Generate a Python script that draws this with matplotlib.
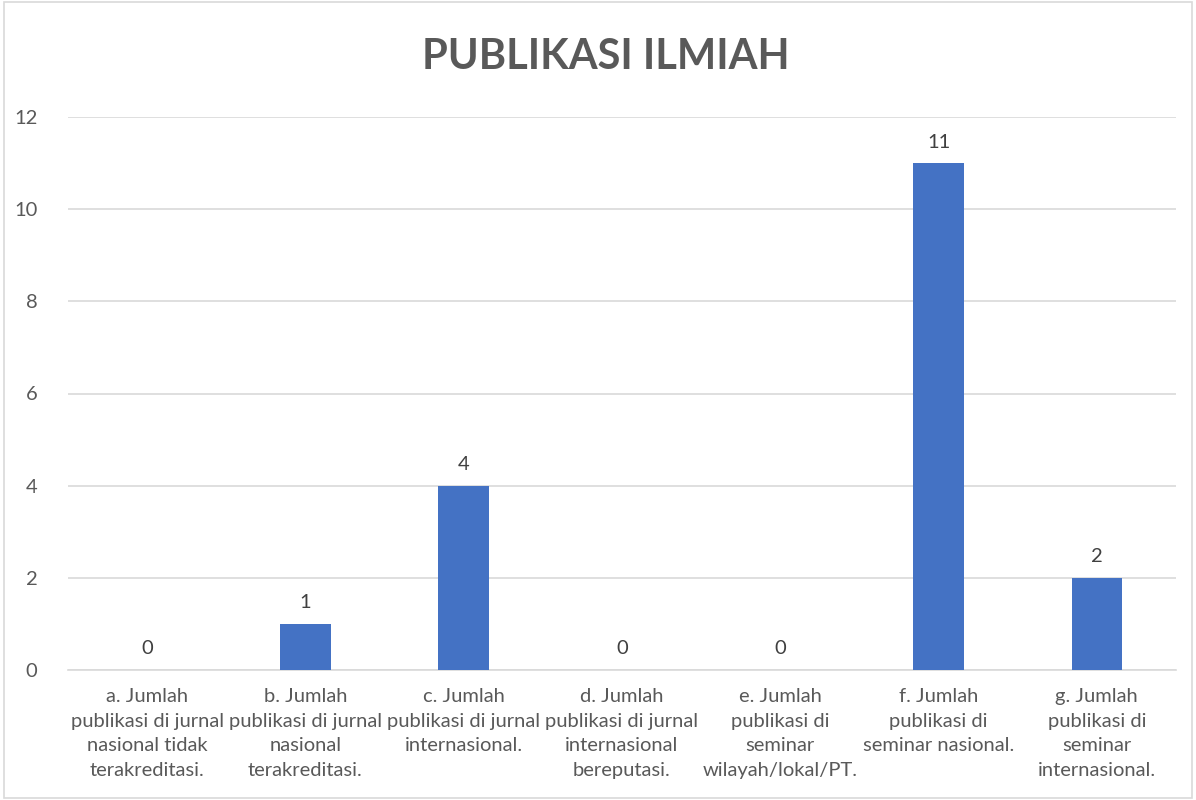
import matplotlib
matplotlib.use("Agg")
import matplotlib.pyplot as plt
from matplotlib.patches import Rectangle

plt.rcParams["font.family"] = ["Lato", "DejaVu Sans"]

categories = [
    "a. Jumlah\npublikasi di jurnal\nnasional tidak\nterakreditasi.",
    "b. Jumlah\npublikasi di jurnal\nnasional\nterakreditasi.",
    "c. Jumlah\npublikasi di jurnal\ninternasional.",
    "d. Jumlah\npublikasi di jurnal\ninternasional\nbereputasi.",
    "e. Jumlah\npublikasi di\nseminar\nwilayah/lokal/PT.",
    "f. Jumlah\npublikasi di\nseminar nasional.",
    "g. Jumlah\npublikasi di\nseminar\ninternasional.",
]
values = [0, 1, 4, 0, 0, 11, 2]
yticks = [0, 2, 4, 6, 8, 10, 12]

text_color = "#595959"
bar_color = "#4472c4"
grid_color = "#d9d9d9"

fig = plt.figure(figsize=(11.96, 8), dpi=100)
ax = fig.add_axes([68 / 1196, 130 / 800, 1108 / 1196, 553 / 800])

x = list(range(len(categories)))
bars = ax.bar(x, values, width=0.32, color=bar_color, zorder=3)

for xi, v in zip(x, values):
    ax.annotate(str(v), (xi, v), xytext=(0, 9), textcoords="offset points",
                ha="center", va="bottom", fontsize=14.5, color="#404040")

ax.set_xlim(-0.5, len(categories) - 0.5)
ax.set_ylim(0, 12)
ax.set_yticks(yticks)
ax.set_xticks(x)
ax.set_xticklabels(categories, fontsize=14.5, color=text_color, linespacing=1.55)
ax.tick_params(axis="y", labelsize=14.5, labelcolor=text_color, length=0, pad=22)
ax.tick_params(axis="x", length=0, pad=13)
ax.yaxis.grid(True, color=grid_color, linewidth=1.2, zorder=0)

for side in ["top", "right", "left"]:
    ax.spines[side].set_visible(False)
ax.spines["bottom"].set_color(grid_color)
ax.spines["bottom"].set_linewidth(1.2)

fig.text(606 / 1196, 1 - 57 / 800, "PUBLIKASI ILMIAH", ha="center", va="center",
         fontsize=30, fontweight="bold", color=text_color)

fig.patches.append(Rectangle((0.003, 0.003), 0.994, 0.994, transform=fig.transFigure,
                             fill=False, edgecolor="#d9d9d9", linewidth=1.2))

fig.savefig("out.png", dpi=100)
